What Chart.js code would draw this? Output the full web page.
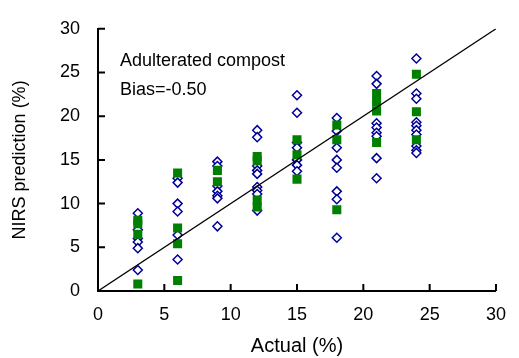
<!DOCTYPE html>
<html>
<head>
<meta charset="utf-8">
<script src="https://cdn.jsdelivr.net/npm/chart.js@4"></script>
<style>
  html, body { margin: 0; padding: 0; background: #fff; }
  canvas { display: block; }
</style>
</head>
<body>
<canvas id="chart" width="519" height="358"></canvas>
<script>
// actual concentration levels (%)
const actualLevels = [3, 6, 9, 12, 15, 18, 21, 24];

// NIRS predictions, open diamonds, one list per actual level
const diamondPred = [
  [8.9, 7.0, 6.0, 5.6, 4.9, 2.4],
  [12.9, 12.4, 10.0, 9.1, 6.4, 3.6],
  [14.8, 14.3, 12.0, 11.4, 10.9, 10.6, 7.4],
  [18.4, 17.6, 14.3, 13.8, 13.4, 11.9, 11.5, 11.1, 9.2],
  [22.4, 20.4, 17.0, 16.4, 15.0, 14.4, 13.7],
  [19.8, 18.3, 16.4, 15.0, 14.1, 11.4, 10.5, 6.1],
  [24.6, 23.7, 19.2, 18.7, 18.1, 17.7, 15.2, 12.9],
  [26.6, 22.6, 22.0, 19.3, 18.9, 18.4, 17.9, 16.6, 16.1, 15.8]
];

// NIRS predictions, filled green squares
const squarePred = [
  [8.1, 7.7, 6.5, 0.8],
  [13.5, 7.2, 5.4, 1.2],
  [13.8, 12.5],
  [15.4, 14.9, 10.4, 9.6],
  [17.3, 15.6, 12.8],
  [19.0, 17.3, 9.3],
  [22.6, 21.6, 20.6, 17.0],
  [24.8, 20.5, 17.3]
];

const axisTicks = [0, 5, 10, 15, 20, 25, 30];
const oneToOne = [0, 30];

const FONT = 'Liberation Sans, Arial, sans-serif';

function toPoints(groups) {
  const pts = [];
  groups.forEach((vals, i) => {
    vals.forEach(v => pts.push({ x: actualLevels[i], y: v }));
  });
  return pts;
}

// inward tick marks + text label in the corner
const decorPlugin = {
  id: 'decor',
  afterDraw(chart) {
    const { ctx, chartArea, scales } = chart;
    ctx.save();
    ctx.strokeStyle = '#000';
    ctx.lineWidth = 2;
    ctx.beginPath();
    axisTicks.forEach(t => {
      const px = scales.x.getPixelForValue(t);
      ctx.moveTo(px, chartArea.bottom);
      ctx.lineTo(px, chartArea.bottom - 7);
      const py = scales.y.getPixelForValue(t);
      ctx.moveTo(chartArea.left, py);
      ctx.lineTo(chartArea.left + 7, py);
    });
    ctx.stroke();

    ctx.fillStyle = '#000';
    ctx.font = '18px ' + FONT;
    ctx.textBaseline = 'middle';
    ctx.fillText('Adulterated compost', chartArea.left + 22, chartArea.top + 32);
    ctx.fillText('Bias=-0.50', chartArea.left + 22, chartArea.top + 61);
    ctx.restore();
  }
};

new Chart(document.getElementById('chart'), {
  type: 'scatter',
  data: {
    datasets: [
      {
        type: 'line',
        data: oneToOne.map(v => ({ x: v, y: v })),
        borderColor: '#000',
        borderWidth: 1.3,
        pointRadius: 0,
        order: 0
      },
      {
        data: toPoints(squarePred),
        pointStyle: 'rect',
        pointRadius: 6.4,
        backgroundColor: '#008000',
        borderColor: '#008000',
        borderWidth: 0,
        order: 1
      },
      {
        data: toPoints(diamondPred),
        pointStyle: 'rectRot',
        pointRadius: 4.5,
        backgroundColor: '#fff',
        borderColor: '#000099',
        borderWidth: 1.5,
        order: 2
      }
    ]
  },
  options: {
    responsive: false,
    animation: false,
    layout: { padding: { top: 27, right: 22, left: 0, bottom: 0 } },
    plugins: {
      legend: { display: false },
      tooltip: { enabled: false }
    },
    scales: {
      x: {
        type: 'linear',
        min: 0,
        max: 30,
        afterFit: s => { s.height = 67; },
        afterBuildTicks: s => { s.ticks = axisTicks.map(v => ({ value: v })); },
        grid: { display: false, drawTicks: false },
        border: { display: true, color: '#000', width: 2 },
        ticks: { color: '#000', padding: 13, font: { family: FONT, size: 18 } },
        title: {
          display: true,
          text: 'Actual (%)',
          color: '#000',
          padding: 0,
          font: { family: FONT, size: 20 }
        }
      },
      y: {
        type: 'linear',
        min: 0,
        max: 30,
        afterFit: s => { s.width = 98; },
        afterBuildTicks: s => { s.ticks = axisTicks.map(v => ({ value: v })); },
        grid: { display: false, drawTicks: false },
        border: { display: true, color: '#000', width: 2 },
        ticks: { color: '#000', padding: 18, font: { family: FONT, size: 18 } },
        title: {
          display: true,
          text: 'NIRS prediction (%)',
          color: '#000',
          padding: { top: 9, bottom: 0 },
          font: { family: FONT, size: 18 }
        }
      }
    }
  },
  plugins: [decorPlugin]
});
</script>
</body>
</html>
